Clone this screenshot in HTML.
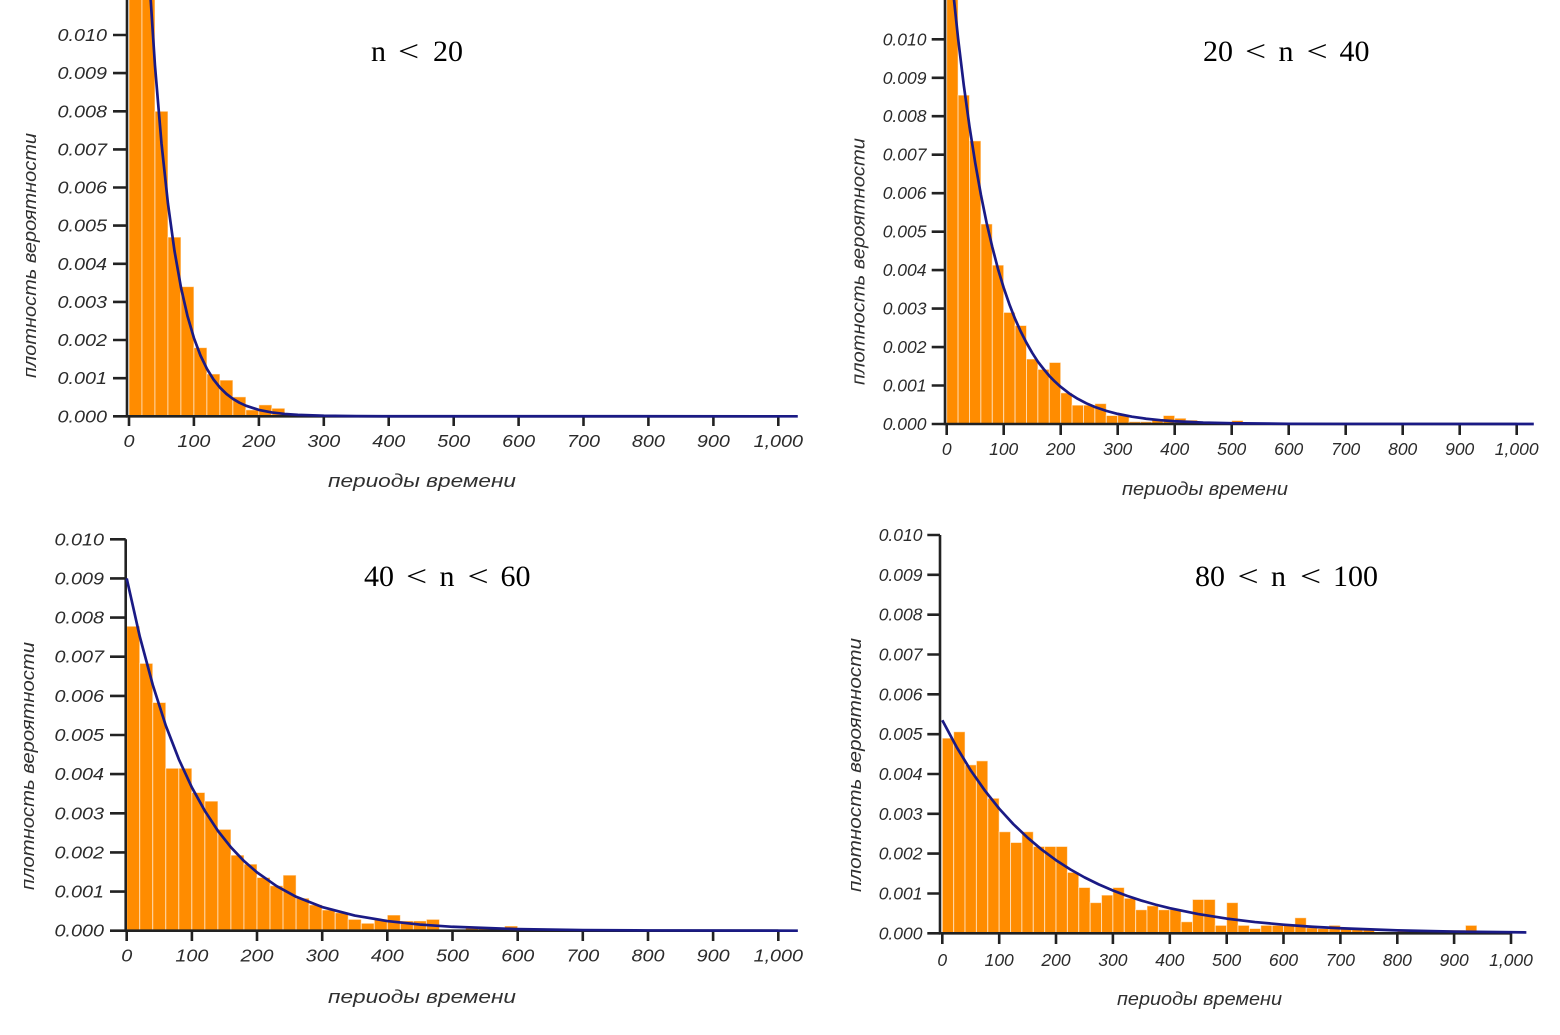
<!DOCTYPE html>
<html><head><meta charset="utf-8"><style>
html,body{margin:0;padding:0;background:#fff;}
svg{display:block;}
.tk{font-family:"Liberation Sans",sans-serif;font-style:italic;font-size:17.5px;fill:#2b2b2b;}
.ttl{font-family:"Liberation Serif",serif;font-size:30px;fill:#000;}
.lab{font-family:"Liberation Sans",sans-serif;font-style:italic;font-size:18.5px;fill:#2f2f2f;}
.bars rect{fill:#ff8c00;stroke:#fff;stroke-opacity:0.55;stroke-width:1;vector-effect:non-scaling-stroke;}
.crv{fill:none;stroke:#1a1a85;stroke-width:2.7;vector-effect:non-scaling-stroke;stroke-linejoin:round;}
.ax{stroke:#222;stroke-width:2.6;fill:none;}
</style></head><body>
<svg width="1560" height="1035" viewBox="0 0 1560 1035" xmlns="http://www.w3.org/2000/svg">
<rect width="1560" height="1035" fill="#fff"/>

<!-- ============ TOP LEFT ============ -->
<g class="bars" transform="translate(129,416.3) scale(0.6493,-38.13)">
<rect x="0" width="20" height="30"/><rect x="20" width="20" height="30"/><rect x="40" width="20" height="8.0"/><rect x="60" width="20" height="4.7"/><rect x="80" width="20" height="3.4"/><rect x="100" width="20" height="1.8"/><rect x="120" width="20" height="1.11"/><rect x="140" width="20" height="0.95"/><rect x="160" width="20" height="0.51"/><rect x="180" width="20" height="0.17"/><rect x="200" width="20" height="0.30"/><rect x="220" width="20" height="0.21"/>
</g>
<g class="ax">
<path d="M127,0 V417.6 M125.7,416.3 H778.3"/>
<path d="M113,416.3H127 M113,378.2H127 M113,340H127 M113,301.9H127 M113,263.8H127 M113,225.6H127 M113,187.5H127 M113,149.4H127 M113,111.3H127 M113,73.1H127 M113,35H127"/>
<path d="M129,416.3V426 M193.9,416.3V426 M258.9,416.3V426 M323.8,416.3V426 M388.7,416.3V426 M453.7,416.3V426 M518.6,416.3V426 M583.5,416.3V426 M648.4,416.3V426 M713.4,416.3V426 M778.3,416.3V426"/>
</g>
<g transform="translate(129,416.3) scale(0.6493,-38.13)">
<polyline class="crv" points="0,25 10,19.47 20,15.16 30,11.81 40,9.197 50,7.163 60,5.578 70,4.344 80,3.383 90,2.635 100,2.052 110,1.598 120,1.245 130,0.969 140,0.755 150,0.588 160,0.458 170,0.357 180,0.278 200,0.168 220,0.102 240,0.062 260,0.038 300,0.014 350,0.004 400,0.001 1030,0"/>
</g>
<g class="tk" text-anchor="end" transform="translate(107,0) scale(1.13,1)">
<text x="0" y="422.3">0.000</text><text x="0" y="384.2">0.001</text><text x="0" y="346">0.002</text><text x="0" y="307.9">0.003</text><text x="0" y="269.8">0.004</text><text x="0" y="231.6">0.005</text><text x="0" y="193.5">0.006</text><text x="0" y="155.4">0.007</text><text x="0" y="117.3">0.008</text><text x="0" y="79.1">0.009</text><text x="0" y="41">0.010</text>
</g>
<g class="tk" text-anchor="middle">
<text transform="translate(129,447) scale(1.13,1)">0</text><text transform="translate(193.9,447) scale(1.13,1)">100</text><text transform="translate(258.9,447) scale(1.13,1)">200</text><text transform="translate(323.8,447) scale(1.13,1)">300</text><text transform="translate(388.7,447) scale(1.13,1)">400</text><text transform="translate(453.7,447) scale(1.13,1)">500</text><text transform="translate(518.6,447) scale(1.13,1)">600</text><text transform="translate(583.5,447) scale(1.13,1)">700</text><text transform="translate(648.4,447) scale(1.13,1)">800</text><text transform="translate(713.4,447) scale(1.13,1)">900</text><text transform="translate(778.3,447) scale(1.13,1)">1,000</text>
</g>
<text class="lab" x="422" y="487" text-anchor="middle" textLength="188" lengthAdjust="spacingAndGlyphs">периоды времени</text>
<text class="lab" transform="translate(36,255.5) rotate(-90)" text-anchor="middle" textLength="245" lengthAdjust="spacingAndGlyphs">плотность вероятности</text>
<g class="ttl">
<text x="371" y="61">n</text><text transform="translate(398,61) scale(1.25,1)">&lt;</text><text x="433" y="61">20</text>
</g>

<!-- ============ TOP RIGHT ============ -->
<g class="bars" transform="translate(946.7,424) scale(0.57,-38.47)">
<rect x="0" width="20" height="30"/><rect x="20" width="20" height="8.55"/><rect x="40" width="20" height="7.36"/><rect x="60" width="20" height="5.2"/><rect x="80" width="20" height="4.13"/><rect x="100" width="20" height="2.9"/><rect x="120" width="20" height="2.56"/><rect x="140" width="20" height="1.69"/><rect x="160" width="20" height="1.42"/><rect x="180" width="20" height="1.6"/><rect x="200" width="20" height="0.81"/><rect x="220" width="20" height="0.49"/><rect x="240" width="20" height="0.49"/><rect x="260" width="20" height="0.53"/><rect x="280" width="20" height="0.22"/><rect x="300" width="20" height="0.23"/><rect x="320" width="20" height="0.06"/><rect x="340" width="20" height="0.06"/><rect x="360" width="20" height="0.11"/><rect x="380" width="20" height="0.22"/><rect x="400" width="20" height="0.15"/><rect x="420" width="20" height="0.10"/><rect x="500" width="20" height="0.09"/><rect x="760" width="20" height="0.03"/>
</g>
<g class="ax">
<path d="M945,0 V425.3 M943.7,424 H1516.7"/>
<path d="M931.7,424H945 M931.7,385.5H945 M931.7,347.1H945 M931.7,308.6H945 M931.7,270.1H945 M931.7,231.7H945 M931.7,193.2H945 M931.7,154.7H945 M931.7,116.2H945 M931.7,77.8H945 M931.7,39.3H945"/>
<path d="M946.7,424V435 M1003.7,424V435 M1060.7,424V435 M1117.7,424V435 M1174.7,424V435 M1231.7,424V435 M1288.7,424V435 M1345.7,424V435 M1402.7,424V435 M1459.7,424V435 M1516.7,424V435"/>
</g>
<g transform="translate(946.7,424) scale(0.57,-38.47)">
<polyline class="crv" points="0,13 10,11.42 20,10.02 30,8.80 40,7.73 50,6.79 60,5.96 70,5.23 80,4.60 90,4.03 100,3.54 110,3.11 120,2.73 130,2.40 140,2.11 150,1.85 160,1.62 170,1.43 180,1.25 190,1.10 200,0.966 215,0.794 230,0.654 245,0.538 260,0.442 280,0.341 300,0.263 325,0.19 350,0.137 375,0.099 400,0.072 450,0.0375 500,0.0195 600,0.0053 700,0.0014 1030,0"/>
</g>
<g class="tk" text-anchor="end" transform="translate(926.5,0) scale(1.0,1)">
<text x="0" y="430">0.000</text><text x="0" y="391.5">0.001</text><text x="0" y="353.1">0.002</text><text x="0" y="314.6">0.003</text><text x="0" y="276.1">0.004</text><text x="0" y="237.7">0.005</text><text x="0" y="199.2">0.006</text><text x="0" y="160.7">0.007</text><text x="0" y="122.2">0.008</text><text x="0" y="83.8">0.009</text><text x="0" y="45.3">0.010</text>
</g>
<g class="tk" text-anchor="middle">
<text x="946.7" y="455">0</text><text x="1003.7" y="455">100</text><text x="1060.7" y="455">200</text><text x="1117.7" y="455">300</text><text x="1174.7" y="455">400</text><text x="1231.7" y="455">500</text><text x="1288.7" y="455">600</text><text x="1345.7" y="455">700</text><text x="1402.7" y="455">800</text><text x="1459.7" y="455">900</text><text x="1516.7" y="455">1,000</text>
</g>
<text class="lab" x="1205" y="495" text-anchor="middle" textLength="166" lengthAdjust="spacingAndGlyphs">периоды времени</text>
<text class="lab" transform="translate(864.5,261.5) rotate(-90)" text-anchor="middle" textLength="247" lengthAdjust="spacingAndGlyphs">плотность вероятности</text>
<g class="ttl">
<text x="1203" y="61">20</text><text transform="translate(1245,61) scale(1.25,1)">&lt;</text><text x="1278.5" y="61">n</text><text transform="translate(1306.5,61) scale(1.25,1)">&lt;</text><text x="1339.5" y="61">40</text>
</g>

<!-- ============ BOTTOM LEFT ============ -->
<g class="bars" transform="translate(126.7,930.7) scale(0.6516,-39.14)">
<rect x="0" width="20" height="7.78"/><rect x="20" width="20" height="6.83"/><rect x="40" width="20" height="5.83"/><rect x="60" width="20" height="4.15"/><rect x="80" width="20" height="4.15"/><rect x="100" width="20" height="3.53"/><rect x="120" width="20" height="3.31"/><rect x="140" width="20" height="2.59"/><rect x="160" width="20" height="1.93"/><rect x="180" width="20" height="1.70"/><rect x="200" width="20" height="1.36"/><rect x="220" width="20" height="1.15"/><rect x="240" width="20" height="1.42"/><rect x="260" width="20" height="0.83"/><rect x="280" width="20" height="0.66"/><rect x="300" width="20" height="0.53"/><rect x="320" width="20" height="0.46"/><rect x="340" width="20" height="0.29"/><rect x="360" width="20" height="0.19"/><rect x="380" width="20" height="0.29"/><rect x="400" width="20" height="0.40"/><rect x="420" width="20" height="0.25"/><rect x="440" width="20" height="0.25"/><rect x="460" width="20" height="0.29"/><rect x="520" width="20" height="0.08"/><rect x="540" width="20" height="0.08"/><rect x="580" width="20" height="0.12"/>
</g>
<g class="ax">
<path d="M125.7,539.3 V932 M124.4,930.7 H778.3"/>
<path d="M110,930.7H125.7 M110,891.6H125.7 M110,852.4H125.7 M110,813.3H125.7 M110,774.1H125.7 M110,735H125.7 M110,695.9H125.7 M110,656.7H125.7 M110,617.6H125.7 M110,578.4H125.7 M110,539.3H125.7"/>
<path d="M126.7,930.7V941 M191.9,930.7V941 M257,930.7V941 M322.2,930.7V941 M387.3,930.7V941 M452.5,930.7V941 M517.7,930.7V941 M582.8,930.7V941 M648,930.7V941 M713.1,930.7V941 M778.3,930.7V941"/>
</g>
<g transform="translate(126.7,930.7) scale(0.6516,-39.14)">
<polyline class="crv" points="0,9 20,7.52 40,6.28 60,5.24 80,4.38 100,3.66 120,3.06 140,2.55 160,2.13 180,1.78 200,1.49 230,1.14 260,0.867 300,0.605 350,0.386 400,0.246 450,0.157 500,0.1 600,0.041 700,0.0165 800,0.0067 1030,0.0008"/>
</g>
<g class="tk" text-anchor="end" transform="translate(104,0) scale(1.13,1)">
<text x="0" y="936.7">0.000</text><text x="0" y="897.6">0.001</text><text x="0" y="858.4">0.002</text><text x="0" y="819.3">0.003</text><text x="0" y="780.1">0.004</text><text x="0" y="741">0.005</text><text x="0" y="701.9">0.006</text><text x="0" y="662.7">0.007</text><text x="0" y="623.6">0.008</text><text x="0" y="584.4">0.009</text><text x="0" y="545.3">0.010</text>
</g>
<g class="tk" text-anchor="middle">
<text transform="translate(126.7,961.5) scale(1.13,1)">0</text><text transform="translate(191.9,961.5) scale(1.13,1)">100</text><text transform="translate(257,961.5) scale(1.13,1)">200</text><text transform="translate(322.2,961.5) scale(1.13,1)">300</text><text transform="translate(387.3,961.5) scale(1.13,1)">400</text><text transform="translate(452.5,961.5) scale(1.13,1)">500</text><text transform="translate(517.7,961.5) scale(1.13,1)">600</text><text transform="translate(582.8,961.5) scale(1.13,1)">700</text><text transform="translate(648,961.5) scale(1.13,1)">800</text><text transform="translate(713.1,961.5) scale(1.13,1)">900</text><text transform="translate(778.3,961.5) scale(1.13,1)">1,000</text>
</g>
<text class="lab" x="422" y="1003" text-anchor="middle" textLength="188" lengthAdjust="spacingAndGlyphs">периоды времени</text>
<text class="lab" transform="translate(34,766) rotate(-90)" text-anchor="middle" textLength="248" lengthAdjust="spacingAndGlyphs">плотность вероятности</text>
<g class="ttl">
<text x="364" y="586">40</text><text transform="translate(406,586) scale(1.25,1)">&lt;</text><text x="439.5" y="586">n</text><text transform="translate(467.5,586) scale(1.25,1)">&lt;</text><text x="500.5" y="586">60</text>
</g>

<!-- ============ BOTTOM RIGHT ============ -->
<g class="bars" transform="translate(942.3,933.3) scale(0.5687,-39.83)">
<rect x="0" width="20" height="4.9"/><rect x="20" width="20" height="5.06"/><rect x="40" width="20" height="4.23"/><rect x="60" width="20" height="4.33"/><rect x="80" width="20" height="3.39"/><rect x="100" width="20" height="2.55"/><rect x="120" width="20" height="2.28"/><rect x="140" width="20" height="2.55"/><rect x="160" width="20" height="2.18"/><rect x="180" width="20" height="2.18"/><rect x="200" width="20" height="2.18"/><rect x="220" width="20" height="1.53"/><rect x="240" width="20" height="1.15"/><rect x="260" width="20" height="0.77"/><rect x="280" width="20" height="0.96"/><rect x="300" width="20" height="1.15"/><rect x="320" width="20" height="0.88"/><rect x="340" width="20" height="0.59"/><rect x="360" width="20" height="0.69"/><rect x="380" width="20" height="0.59"/><rect x="400" width="20" height="0.60"/><rect x="420" width="20" height="0.29"/><rect x="440" width="20" height="0.85"/><rect x="460" width="20" height="0.85"/><rect x="480" width="20" height="0.20"/><rect x="500" width="20" height="0.77"/><rect x="520" width="20" height="0.20"/><rect x="540" width="20" height="0.12"/><rect x="560" width="20" height="0.20"/><rect x="580" width="20" height="0.20"/><rect x="600" width="20" height="0.20"/><rect x="620" width="20" height="0.39"/><rect x="640" width="20" height="0.14"/><rect x="660" width="20" height="0.12"/><rect x="680" width="20" height="0.20"/><rect x="700" width="20" height="0.14"/><rect x="720" width="20" height="0.12"/><rect x="740" width="20" height="0.12"/><rect x="800" width="20" height="0.06"/><rect x="820" width="20" height="0.06"/><rect x="860" width="20" height="0.08"/><rect x="880" width="20" height="0.08"/><rect x="900" width="20" height="0.08"/><rect x="920" width="20" height="0.20"/>
</g>
<g class="ax">
<path d="M940,535 V934.6 M938.7,933.3 H1511"/>
<path d="M927.3,933.3H940 M927.3,893.5H940 M927.3,853.6H940 M927.3,813.8H940 M927.3,774H940 M927.3,734.2H940 M927.3,694.3H940 M927.3,654.5H940 M927.3,614.7H940 M927.3,574.8H940 M927.3,535H940"/>
<path d="M942.3,933.3V944 M999.2,933.3V944 M1056,933.3V944 M1112.9,933.3V944 M1169.8,933.3V944 M1226.7,933.3V944 M1283.5,933.3V944 M1340.4,933.3V944 M1397.3,933.3V944 M1454.1,933.3V944 M1511,933.3V944"/>
</g>
<g transform="translate(942.3,933.3) scale(0.5687,-39.83)">
<polyline class="crv" points="0,5.35 25,4.68 50,4.09 75,3.58 100,3.13 125,2.74 150,2.40 175,2.10 200,1.835 225,1.605 250,1.404 275,1.228 300,1.075 325,0.940 350,0.822 375,0.720 400,0.630 450,0.482 500,0.369 550,0.282 600,0.216 650,0.165 700,0.1265 800,0.0741 900,0.0434 1027,0.022"/>
</g>
<g class="tk" text-anchor="end" transform="translate(922.5,0) scale(1.0,1)">
<text x="0" y="939.3">0.000</text><text x="0" y="899.5">0.001</text><text x="0" y="859.6">0.002</text><text x="0" y="819.8">0.003</text><text x="0" y="780">0.004</text><text x="0" y="740.2">0.005</text><text x="0" y="700.3">0.006</text><text x="0" y="660.5">0.007</text><text x="0" y="620.7">0.008</text><text x="0" y="580.8">0.009</text><text x="0" y="541">0.010</text>
</g>
<g class="tk" text-anchor="middle">
<text x="942.3" y="966">0</text><text x="999.2" y="966">100</text><text x="1056" y="966">200</text><text x="1112.9" y="966">300</text><text x="1169.8" y="966">400</text><text x="1226.7" y="966">500</text><text x="1283.5" y="966">600</text><text x="1340.4" y="966">700</text><text x="1397.3" y="966">800</text><text x="1454.1" y="966">900</text><text x="1511" y="966">1,000</text>
</g>
<text class="lab" x="1199.5" y="1005" text-anchor="middle" textLength="165" lengthAdjust="spacingAndGlyphs">периоды времени</text>
<text class="lab" transform="translate(861,765) rotate(-90)" text-anchor="middle" textLength="254" lengthAdjust="spacingAndGlyphs">плотность вероятности</text>
<g class="ttl">
<text x="1195" y="586">80</text><text transform="translate(1237.5,586) scale(1.25,1)">&lt;</text><text x="1271" y="586">n</text><text transform="translate(1300,586) scale(1.25,1)">&lt;</text><text x="1333" y="586">100</text>
</g>
</svg>
</body></html>
